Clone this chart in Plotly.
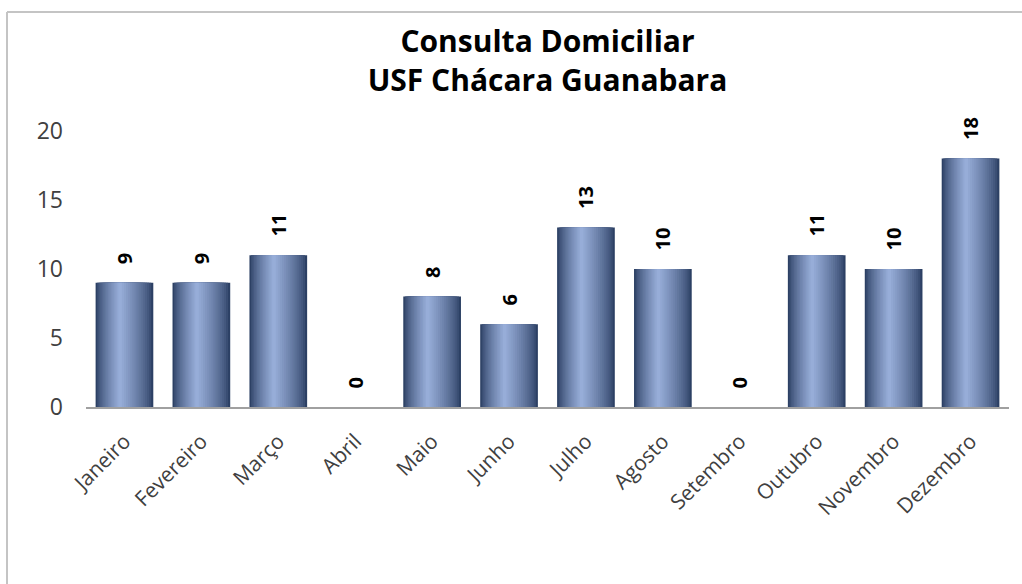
import plotly.graph_objects as go

months = ["Janeiro", "Fevereiro", "Março", "Abril", "Maio", "Junho", "Julho",
          "Agosto", "Setembro", "Outubro", "Novembro", "Dezembro"]
visits = [9, 9, 11, 0, 8, 6, 13, 10, 0, 11, 10, 18]
y_ticks = [0, 5, 10, 15, 20]

title_lines = ["Consulta Domiciliar", "USF Chácara Guanabara"]


def mix(c1, c2, t):
    return "rgb({},{},{})".format(*[round(a + (b - a) * t) for a, b in zip(c1, c2)])


dark = (44, 64, 100)
light = (156, 178, 222)
n_layers = 16
bar_w = 0.75

fig = go.Figure()
for i in range(n_layers):
    frac = i / n_layers
    w = bar_w * (1 - frac)
    t = frac ** 0.75
    shift = -0.06 * frac
    fig.add_trace(go.Bar(
        x=months, y=visits,
        width=w, offset=-w / 2 + shift,
        marker=dict(color=mix(dark, light, t), line=dict(width=0)),
        hoverinfo="skip", showlegend=False,
        text=[f"\u00a0\u00a0\u00a0{v}" for v in visits] if i == 0 else None,
        textposition="outside" if i == 0 else "none",
        textangle=-90,
        constraintext="none",
        cliponaxis=False,
        textfont=dict(family="Open Sans", size=20, color="black", weight="bold"),
    ))

border = dict(color="#c4c4c4", width=2)
fig.update_layout(
    width=1022, height=584,
    barmode="overlay",
    paper_bgcolor="white", plot_bgcolor="white",
    margin=dict(l=86, r=13, t=131, b=177),
    font=dict(family="Open Sans", color="#404040"),
    title=dict(
        text="<br>".join(title_lines),
        x=0.5, xref="paper", xanchor="center",
        y=0.911, yref="container", yanchor="top",
        font=dict(family="Open Sans", size=30, color="black", weight="bold"),
    ),
    xaxis=dict(
        tickangle=-45, showgrid=False, showline=True, linecolor="#a0a0a0",
        linewidth=1.5, ticks="", tickfont=dict(size=21, color="#404040"),
        range=[-0.5, 11.5], ticklabelstandoff=12,
    ),
    yaxis=dict(
        range=[0, 20], tickvals=y_ticks, showgrid=False, showline=False,
        zeroline=False, ticks="", tickfont=dict(size=23, color="#404040"),
        ticklabelstandoff=22,
    ),
    shapes=[
        dict(type="line", xref="paper", yref="paper",
             x0=-0.0856, x1=1.05, y0=1.431, y1=1.431, line=border, layer="below"),
        dict(type="line", xref="paper", yref="paper",
             x0=-0.0856, x1=-0.0856, y0=-1.0, y1=1.431, line=border, layer="below"),
    ],
)

fig.write_html("out.html", config={"displayModeBar": False},
               post_script="document.body.style.margin='0';")
